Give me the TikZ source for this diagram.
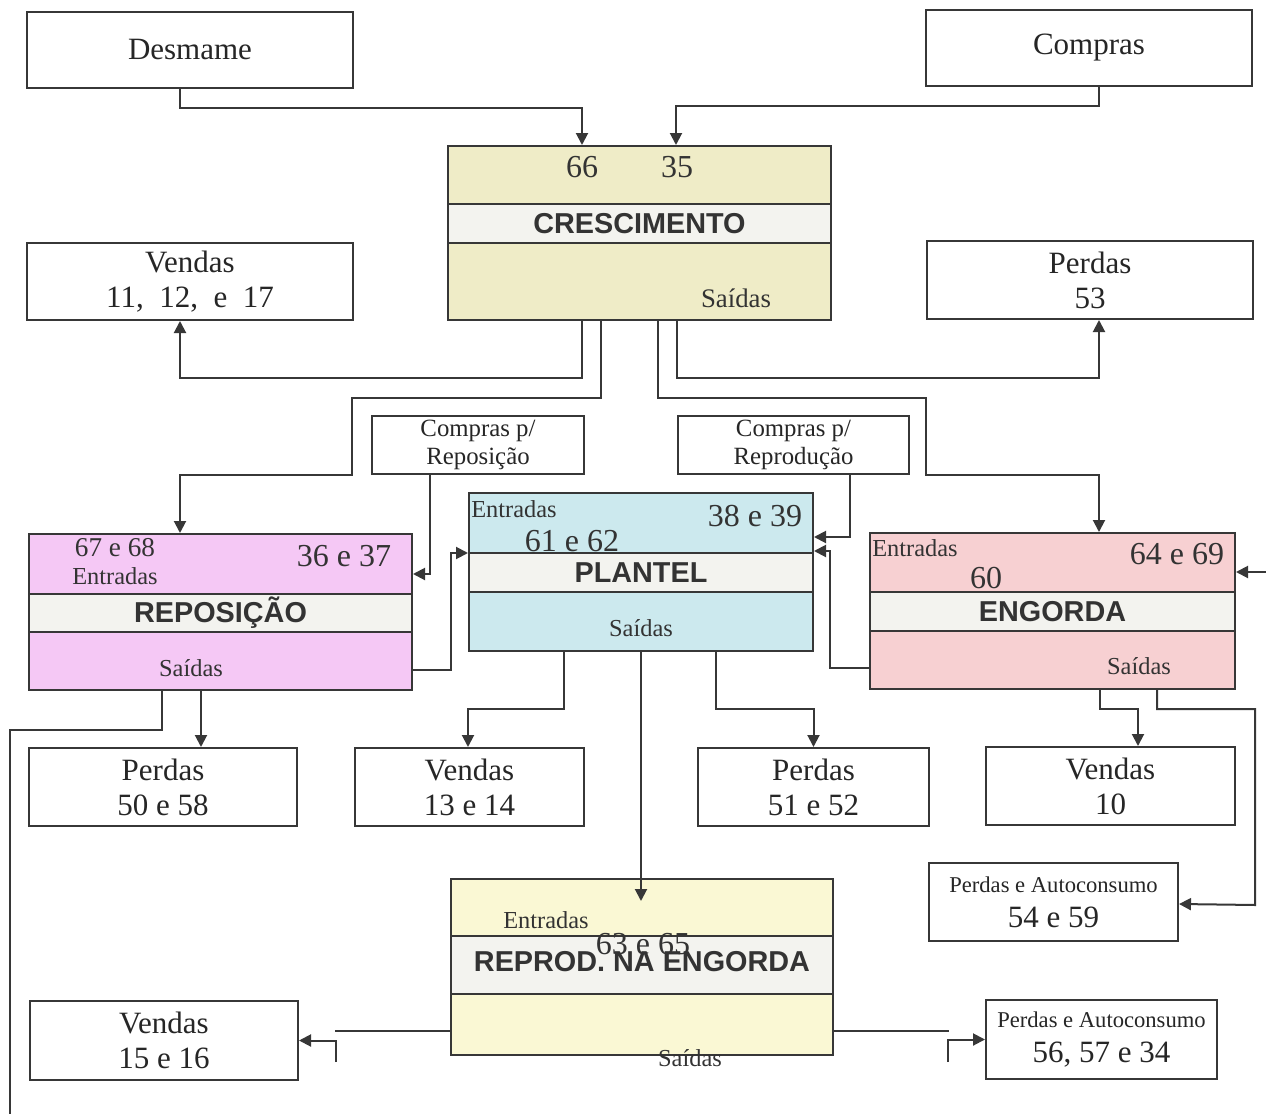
\documentclass[tikz,border=0pt]{standalone}
\usepackage{fontspec}
\setmainfont{Liberation Serif}
\setsansfont{Liberation Sans}
\usetikzlibrary{calc,arrows.meta}
\definecolor{crescFill}{RGB}{239,236,199}
\definecolor{reposFill}{RGB}{245,200,245}
\definecolor{plantFill}{RGB}{204,233,238}
\definecolor{engFill}{RGB}{247,208,210}
\definecolor{reprFill}{RGB}{250,248,212}
\definecolor{bandFill}{RGB}{243,243,239}
\definecolor{lineGray}{RGB}{55,55,55}
\newcommand{\SmallLine}[1]{{\fontsize{11.3}{13}\selectfont #1}}
\tikzset{
  box/.style={draw=lineGray, line width=1pt, fill=white, inner sep=0pt, align=center, text=black!85, font=\fontsize{15.5}{17.5}\selectfont},
  smallbox/.style={box, font=\fontsize{12.4}{14}\selectfont},
  sector/.style={draw=lineGray, line width=1pt, inner sep=0pt},
  band/.style={draw=lineGray, line width=1pt, fill=bandFill, inner sep=0pt, text=black!80, font=\fontsize{14.4}{16}\selectfont\sffamily\bfseries},
  num/.style={inner sep=0pt, text=black!80, font=\fontsize{16}{18}\selectfont},
  tag/.style={inner sep=0pt, text=black!80, font=\fontsize{12.2}{14}\selectfont},
  wire/.style={draw=lineGray, line width=1pt},
  flow/.style={wire, -{Triangle[length=6pt,width=6pt]}}
}

\begin{document}
\begin{tikzpicture}[x=0.5pt, y=-0.5pt]
\useasboundingbox (0,0) rectangle (1266,1114);

% sectors
\node[sector, fill=crescFill, minimum width=191.5pt, minimum height=87pt] (cresc) at (639.5,233) {};
\node[band, minimum width=191.5pt, minimum height=19.5pt] (crescBand) at (639.5,223.5) {CRESCIMENTO};
\node[num] (c66) at (582,167) {66};
\node[num] (c35) at (677,167) {35};
\node[tag, font=\fontsize{13.4}{15}\selectfont] (cOut) at (736,298) {Saídas};

\node[sector, fill=reposFill, minimum width=191.5pt, minimum height=78pt] (repos) at (220.5,612) {};
\node[band, minimum width=191.5pt, minimum height=19pt] (reposBand) at (220.5,613) {REPOSIÇÃO};
\node[tag, font=\fontsize{13.6}{15}\selectfont] (r6768) at (115,548) {67 e 68};
\node[tag] (rIn) at (115,576) {Entradas};
\node[num] (r3637) at (344,556) {36 e 37};
\node[tag] (rOut) at (191,668) {Saídas};

\node[sector, fill=plantFill, minimum width=172pt, minimum height=79pt] (plantel) at (641,572) {};
\node[band, minimum width=172pt, minimum height=19.5pt] (plantBand) at (641,572.5) {PLANTEL};
\node[tag] (pIn) at (514,509) {Entradas};
\node[num] (p3839) at (755,516) {38 e 39};
\node[num] (p6162) at (572,541) {61 e 62};
\node[tag] (pOut) at (641,628) {Saídas};

\node[sector, fill=engFill, minimum width=182.5pt, minimum height=78pt] (engorda) at (1052.5,611) {};
\node[band, minimum width=182.5pt, minimum height=19.5pt] (engBand) at (1052.5,611.5) {ENGORDA};
\node[tag] (eIn) at (915,548) {Entradas};
\node[num] (e6469) at (1177,554) {64 e 69};
\node[num] (e60) at (986,578) {60};
\node[tag] (eOut) at (1139,666) {Saídas};

\node[sector, fill=reprFill, minimum width=191pt, minimum height=88pt] (reprod) at (642,967) {};
\node[band, minimum width=191pt, minimum height=29pt] (reprBand) at (642,965) {\raisebox{3.5pt}{REPROD. NA ENGORDA}};
\node[tag] (gIn) at (546,920) {Entradas};
\node[num] (g6365) at (643,944) {63 e 65};
\node[tag] (gOut) at (690,1058) {Saídas};

% plain boxes
\node[box, minimum width=163pt, minimum height=38pt] (desmame) at (190,50) {Desmame};
\node[box, minimum width=163pt, minimum height=38pt] (compras) at (1089,48) {Compras};
\node[box, minimum width=163pt, minimum height=38.5pt] (vendasA) at (190,281.5) {Vendas\\11,\ \ 12,\ \ e\ \ 17};
\node[box, minimum width=163pt, minimum height=39pt] (perdasA) at (1090,280) {Perdas\\53};
\node[smallbox, minimum width=106pt, minimum height=29pt] (cpRepos) at (478,445) {Compras p/\\Reposição};
\node[smallbox, minimum width=115.5pt, minimum height=29pt] (cpRepro) at (793.5,445) {Compras p/\\Reprodução};
\node[box, minimum width=134pt, minimum height=39pt] (perdasB) at (163,787) {Perdas\\50 e 58};
\node[box, minimum width=114.5pt, minimum height=39pt] (vendasB) at (469.5,787) {Vendas\\13 e 14};
\node[box, minimum width=115.5pt, minimum height=39pt] (perdasC) at (813.5,787) {Perdas\\51 e 52};
\node[box, minimum width=124.5pt, minimum height=39pt] (vendasC) at (1110.5,786) {Vendas\\10};
\node[box, minimum width=124.5pt, minimum height=39pt] (autoA) at (1053.5,902) {\SmallLine{Perdas e Autoconsumo}\\54 e 59};
\node[box, minimum width=134pt, minimum height=39.5pt] (vendasD) at (164,1040.5) {Vendas\\15 e 16};
\node[box, minimum width=115.5pt, minimum height=39.5pt] (autoB) at (1101.5,1039.5) {\SmallLine{Perdas e Autoconsumo}\\56, 57 e 34};

% free ends
\coordinate (engIn) at (1266,572);
\coordinate (reposOut) at (10,1114);
\coordinate (stubL) at (336,1062);
\coordinate (stubR) at (948,1062);

% connectors
\draw[flow] ($(desmame.south west)+(154,0)$) -- ++(0,19) -| ($(cresc.north west)+(135,0)$);
\draw[flow] ($(compras.south west)+(174,0)$) -- ++(0,19) -| ($(cresc.north west)+(229,0)$);
\draw[flow] ($(cresc.south west)+(135,0)$) -- ++(0,57) -| ($(vendasA.south west)+(154,0)$);
\draw[flow] ($(cresc.south west)+(154,0)$) -- ++(0,77) -| ++(-249,77) -| ($(repos.north west)+(152,0)$);
\draw[flow] ($(cresc.south west)+(211,0)$) -- ++(0,77) -| ++(268,77) -| ($(engorda.north west)+(230,0)$);
\draw[flow] ($(cresc.south west)+(230,0)$) -- ++(0,57) -| ($(perdasA.south west)+(173,0)$);
\draw[flow] ($(cpRepos.south west)+(59,0)$) |- ($(repos.east)+(0,-38)$);
\draw[flow] ($(repos.east)+(0,58)$) -- ++(38,0) |- ($(plantel.west)+(0,-19)$);
\draw[flow] ($(cpRepro.south west)+(173,0)$) |- ($(plantel.east)+(0,-35)$);
\draw[flow] ($(engorda.west)+(0,57)$) -- ++(-39,0) |- ($(plantel.east)+(0,-21)$);
\draw[flow] (engIn) -- ($(engorda.east)+(0,-39)$);
\draw[flow] ($(repos.south west)+(173,0)$) -- ($(perdasB.north west)+(173,0)$);
\draw[wire] ($(repos.south west)+(134,0)$) -- ++(0,39) -| (reposOut);
\draw[flow] ($(plantel.south west)+(96,0)$) -- ++(0,57) -| ($(vendasB.north west)+(114,0)$);
\draw[flow] ($(plantel.south west)+(173,0)$) -- ($(reprod.north west)+(191,23)$);
\draw[flow] ($(plantel.south west)+(248,0)$) -- ++(0,57) -| (perdasC.north);
\draw[flow] ($(engorda.south west)+(231,0)$) -- ++(0,19) -| ($(vendasC.north west)+(153,0)$);
\draw[flow] ($(engorda.south west)+(288,0)$) -- ++(0,19) -| ++(98,196) -- ($(autoA.east)+(0,2)$);
\draw[wire] ($(reprod.west)+(0,64)$) -- ++(-115,0);
\draw[flow] (stubL) |- (vendasD.east);
\draw[wire] ($(reprod.east)+(0,64)$) -- ++(115,0);
\draw[flow] (stubR) |- (autoB.west);
\end{tikzpicture}
\end{document}
